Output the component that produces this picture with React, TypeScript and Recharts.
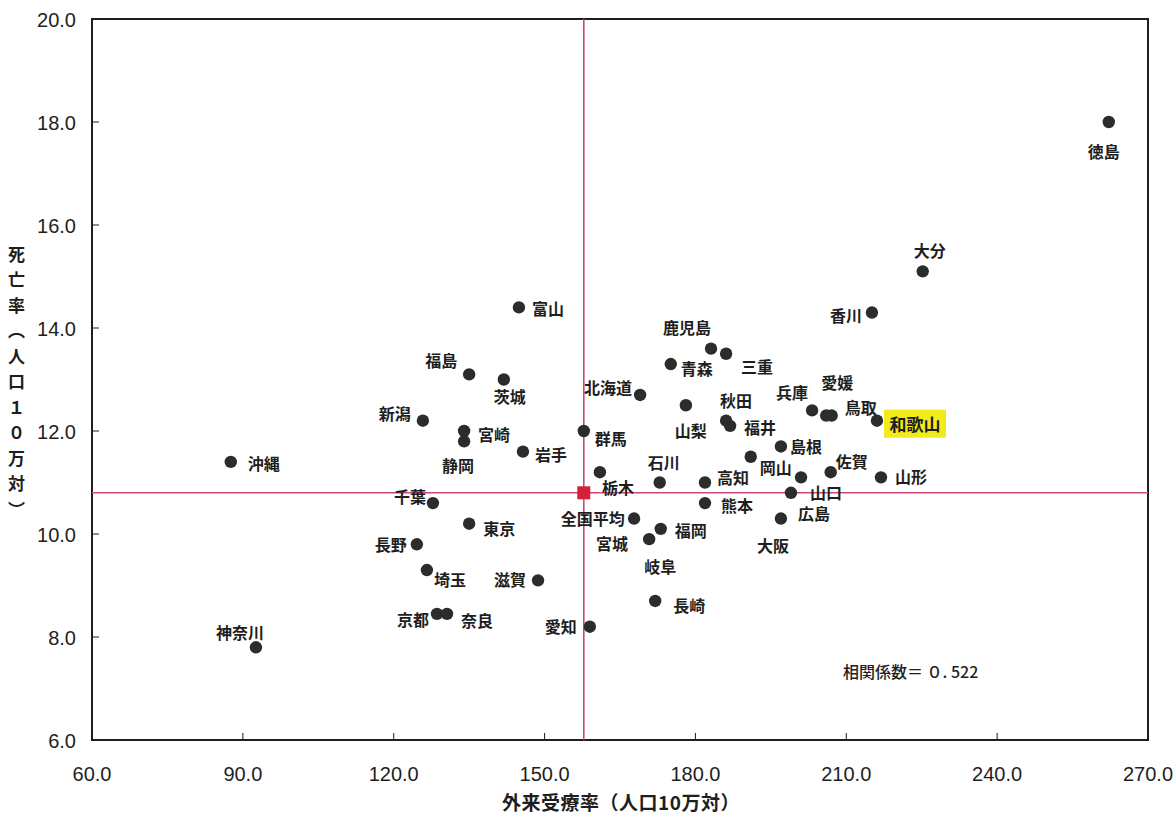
import { ScatterChart, Scatter, XAxis, YAxis, ReferenceLine, ReferenceArea } from "recharts";

// 都道府県別 外来受療率 × 死亡率（人口10万対）
const prefectures = [
  "徳島", "大分", "香川", "富山", "鹿児島", "三重", "青森", "福島", "茨城", "北海道",
  "秋田", "兵庫", "愛媛", "鳥取", "和歌山", "新潟", "宮崎", "山梨", "福井", "群馬",
  "島根", "岩手", "沖縄", "静岡", "石川", "佐賀", "岡山", "高知", "山形", "栃木",
  "千葉", "山口", "熊本", "広島", "東京", "福岡", "長野", "宮城", "大阪", "岐阜",
  "埼玉", "滋賀", "長崎", "京都", "奈良", "愛知", "神奈川",
];
const outpatientRate = [
  262.2, 225.2, 215.1, 144.9, 183.1, 186.1, 175.1, 135.0, 141.9, 169.0,
  186.1, 203.2, 206.0, 207.1, 216.1, 125.8, 134.0, 178.1, 186.9, 157.8,
  197.0, 145.7, 87.6, 134.0, 172.9, 206.9, 191.0, 181.9, 216.9, 161.0,
  127.8, 201.0, 181.9, 199.0, 135.0, 173.1, 124.6, 167.8, 197.0, 170.8,
  126.6, 148.7, 172.0, 128.6, 130.6, 159.0, 92.6,
];
const mortalityRate = [
  18.0, 15.1, 14.3, 14.4, 13.6, 13.5, 13.3, 13.1, 13.0, 12.7,
  12.2, 12.4, 12.3, 12.3, 12.2, 12.2, 12.0, 12.5, 12.1, 12.0,
  11.7, 11.6, 11.4, 11.8, 11.0, 11.2, 11.5, 11.0, 11.1, 11.2,
  10.6, 11.1, 10.6, 10.8, 10.2, 10.1, 9.8, 10.3, 10.3, 9.9,
  9.3, 9.1, 8.7, 8.45, 8.45, 8.2, 7.8,
];
const nationalAverage = { name: "全国平均", x: 157.8, y: 10.8 };
const highlighted = "和歌山";
const correlationText = "相関係数＝ ０. 522";

const xTicks = [60, 90, 120, 150, 180, 210, 240, 270];
const yTicks = [6, 8, 10, 12, 14, 16, 18, 20];

const points = prefectures.map((name, i) => ({ name, x: outpatientRate[i], y: mortalityRate[i] }));

// label placement relative to each dot (px)
const labelOffsets: Record<string, [number, number]> = {
  徳島: [-5, 29], 大分: [7, -21], 香川: [-26, 2], 富山: [29, 1], 鹿児島: [-24, -22],
  三重: [31, 12], 青森: [26, 4], 福島: [-28, -14], 茨城: [6, 16], 北海道: [-32, -8],
  秋田: [10, -21], 兵庫: [-20, -18], 愛媛: [11, -34], 鳥取: [29, -9], 和歌山: [38, 3],
  新潟: [-28, -8], 宮崎: [30, 3], 山梨: [5, 25], 福井: [30, 1], 群馬: [27, 7],
  島根: [25, 0], 岩手: [28, 2], 沖縄: [33, 1], 静岡: [-6, 24], 石川: [4, -21],
  佐賀: [21, -11], 岡山: [25, 10], 高知: [28, -6], 山形: [30, -1], 栃木: [18, 15],
  千葉: [-23, -7], 山口: [25, 15], 熊本: [32, 2], 広島: [23, 20], 東京: [30, 4],
  福岡: [30, 1], 長野: [-26, 0], 宮城: [-22, 24], 大阪: [-8, 26], 岐阜: [11, 27],
  埼玉: [23, 9], 滋賀: [-28, -1], 長崎: [34, 4], 京都: [-24, 5], 奈良: [30, 6],
  愛知: [-29, -1], 神奈川: [-16, -15],
};

const JP = "'Noto Sans CJK JP', 'Noto Sans', sans-serif";
const NUM = "'Liberation Sans Narrow', 'Liberation Sans', Arial, sans-serif";
const INK = "#1e1e1e";
const DOT = "#2b2d2d";
const CROSS = "#c8487f";

function PrefDot(props: any) {
  const { cx, cy, payload } = props;
  const [dx, dy] = labelOffsets[payload.name] ?? [0, -18];
  const isHi = payload.name === highlighted;
  return (
    <g>
      <circle cx={cx} cy={cy} r={6.2} fill={DOT} />
      {isHi && <rect x={cx + dx - 31} y={cy + dy - 14} width={62} height={28} fill="#f0ec1c" />}
      <text
        x={cx + dx}
        y={cy + dy}
        textAnchor="middle"
        dominantBaseline="central"
        fontFamily={JP}
        fontWeight={700}
        fontSize={isHi ? 17 : 16}
        fill={INK}
      >
        {payload.name}
      </text>
    </g>
  );
}

function AverageMark(props: any) {
  const { cx, cy, payload } = props;
  return (
    <g>
      <rect x={cx - 6.5} y={cy - 6.5} width={13} height={13} fill="#d3213a" />
      <text x={cx + 9} y={cy + 25} textAnchor="middle" dominantBaseline="central"
        fontFamily={JP} fontWeight={700} fontSize={16} fill={INK}>
        {payload.name}
      </text>
    </g>
  );
}

function XTick(props: any) {
  const { x, y, payload } = props;
  return (
    <g>
      <line x1={x} y1={y} x2={x} y2={y - 7} stroke={INK} strokeWidth={1} />
      <text x={x} y={y + 34} textAnchor="middle" dominantBaseline="central"
        fontFamily={NUM} fontSize={20} fill={INK}>
        {payload.value.toFixed(1)}
      </text>
    </g>
  );
}

function YTick(props: any) {
  const { x, y, payload } = props;
  return (
    <g>
      <line x1={x} y1={y} x2={x + 7} y2={y} stroke={INK} strokeWidth={1} />
      <text x={x - 16} y={y + 1} textAnchor="end" dominantBaseline="central"
        fontFamily={NUM} fontSize={20} fill={INK}>
        {payload.value.toFixed(1)}
      </text>
    </g>
  );
}

export default function App() {
  return (
    <div style={{ position: "absolute", left: 0, top: 0, width: 1176, height: 813, background: "#fff" }}>
      <ScatterChart width={1176} height={813} margin={{ top: 19, right: 28, bottom: 0, left: 0 }}>
        <XAxis
          type="number"
          dataKey="x"
          domain={[60, 270]}
          ticks={xTicks}
          height={73}
          axisLine={false}
          tickLine={false}
          tickSize={0}
          tickMargin={0}
          tick={<XTick />}
          interval={0}
        />
        <YAxis
          type="number"
          dataKey="y"
          domain={[6, 20]}
          ticks={yTicks}
          width={92}
          axisLine={false}
          tickLine={false}
          tickSize={0}
          tickMargin={0}
          tick={<YTick />}
          interval={0}
        />
        <ReferenceArea x1={60} x2={270} y1={6} y2={20} fill="none" stroke={INK} strokeWidth={2} />
        <ReferenceLine x={nationalAverage.x} stroke={CROSS} strokeWidth={1.6} />
        <ReferenceLine y={nationalAverage.y} stroke={CROSS} strokeWidth={1.6} />
        <Scatter data={points} isAnimationActive={false} shape={<PrefDot />} />
        <Scatter data={[nationalAverage]} isAnimationActive={false} shape={<AverageMark />} />
      </ScatterChart>

      <div style={{ position: "absolute", left: 843, top: 659, fontFamily: JP, fontSize: 16, fontWeight: 500, color: INK, whiteSpace: "pre" }}>
        {correlationText}
      </div>
      <div style={{ position: "absolute", left: 0, top: 788, width: 1242, textAlign: "center", fontFamily: JP, fontSize: 19, fontWeight: 700, letterSpacing: 0.5, color: INK }}>
        外来受療率（人口10万対）
      </div>
      <div style={{
        position: "absolute", left: 8, top: 246, writingMode: "vertical-rl", fontFamily: JP,
        fontSize: 17, fontWeight: 700, letterSpacing: 8.5, color: INK, lineHeight: 1,
      }}>
        死亡率（人口１０万対）
      </div>
    </div>
  );
}
